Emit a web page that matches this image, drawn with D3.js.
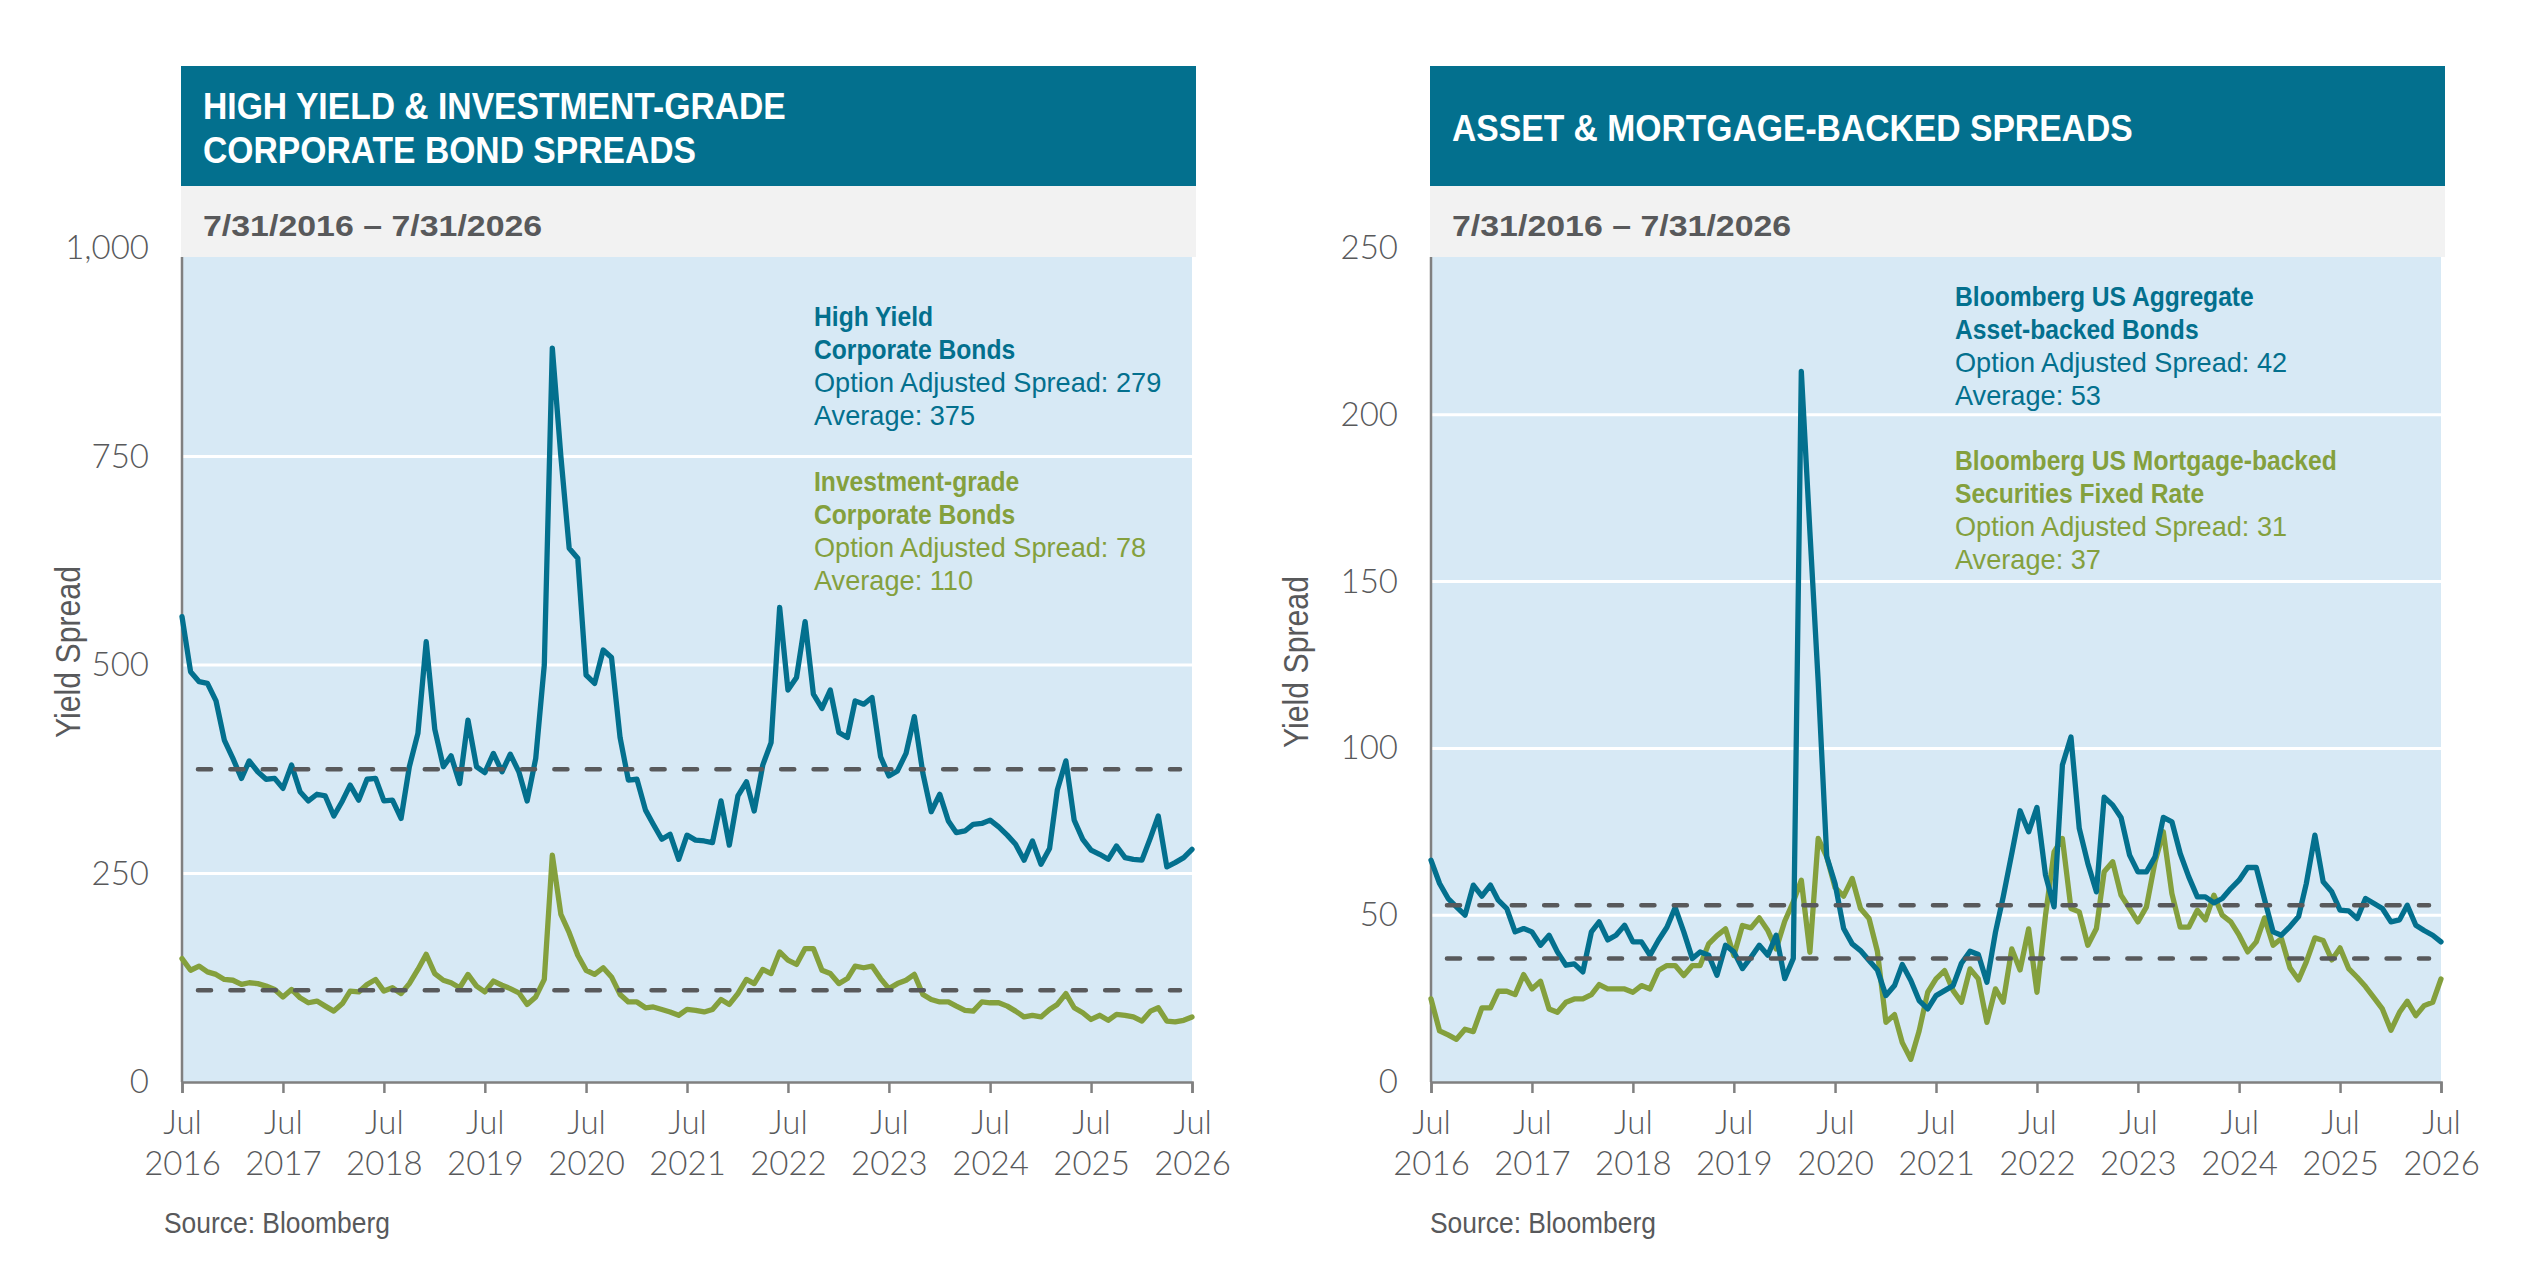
<!DOCTYPE html>
<html>
<head>
<meta charset="utf-8">
<script src="https://cdn.jsdelivr.net/npm/d3@7"></script>
<style>
  body { margin: 0; background: #fff; }
  svg text { font-family: "Liberation Sans", Arial, sans-serif; }
  svg .tick text { font-family: Lato, "Noto Sans", sans-serif; font-weight: 300; }
</style>
</head>
<body>
<div id="chart"></div>
<script>
// monthly spreads, Jul 2016 .. Jul 2026 (121 points)
const highYield = [558,492,480,478,457,410,388,364,385,372,363,364,352,380,348,337,345,343,319,337,
  356,338,363,364,337,338,316,378,418,528,423,378,391,358,434,378,371,394,372,393,
  372,337,388,500,880,750,640,628,488,478,518,509,413,362,363,326,309,291,297,267,
  296,290,289,287,337,284,343,360,325,380,407,569,470,485,552,465,448,470,419,413,
  457,453,461,390,367,373,394,438,370,324,345,313,299,301,309,310,314,306,296,285,
  266,289,261,280,350,385,314,291,278,273,267,283,269,267,266,293,319,258,263,269,279];
const investGrade = [148,134,139,132,129,123,122,117,119,118,115,111,102,111,101,95,97,91,85,94,
  109,108,117,123,109,113,106,118,135,153,130,122,119,113,129,115,108,121,116,112,
  107,93,102,123,272,201,179,152,134,129,137,126,105,96,96,89,90,87,84,80,
  87,86,84,87,99,93,106,123,118,135,130,156,146,141,160,160,134,130,118,124,
  139,137,139,124,112,118,122,129,105,99,96,96,91,86,85,96,95,95,91,85,
  78,80,78,87,93,106,89,83,75,80,74,81,80,78,73,85,89,73,72,74,78];
const assetBacked = [66.5,59.5,55,52.5,50,59,55.7,59,54.5,52,45,46,45,41,44,39,35,35.4,33,45,
  48,42.6,44,47,42,42,38,42.4,46.4,52.3,45,37,39,38,32,41,39,34,37.4,41,
  38,44,31,37,213,165,120,67.5,59.5,46,41.4,39.4,36.4,33.6,25.9,28.9,35.2,30.4,24.4,21.9,
  25.9,27.4,28.9,35.6,39.2,38.2,29.9,44.9,55.5,68.5,81.3,75,82.3,62,52.5,95,103.4,76,65.5,57,
  85.4,83,79.3,68,63,63,67.5,79.3,78,68.5,61.5,55.5,55.5,53.7,55,58,60.5,64.3,64.3,54.7,
  45,44,46.6,49.6,59.5,74,60,57,51.5,51.3,49,55,53.5,52,48,48.6,53,47,45.4,44,42];
const mortgageBacked = [24.9,15.3,14.1,12.8,15.8,15.1,22.2,22.2,27.2,27.2,26.2,32.2,27.9,30.2,21.9,20.9,23.9,24.9,24.9,26.2,
  29.2,27.9,27.9,27.9,26.9,28.9,27.9,33.4,34.9,34.9,31.9,34.9,34.9,41.4,43.9,45.9,37.9,46.9,46.2,49.2,
  45.4,39.9,48.2,54,60.5,38.9,73,67.5,58.3,55.7,61,52,49,39.2,17.9,20.2,11.8,6.8,15.3,26.9,
  30.9,33.4,27.4,23.9,33.9,30.9,17.9,27.9,23.9,39.9,33.6,45.9,26.9,50,69,73,52,51,41,46,
  63,66,56,52,48,52.5,66,75,56.5,46.4,46.4,51.5,48.6,56,50,48,44,39,42,49.2,
  41,43,34.2,30.6,36,43.2,42.4,36.6,40.2,34,31.4,28.6,25.2,21.9,15.5,20.9,24.2,19.9,22.9,23.9,30.9];

const months = d3.timeMonth.range(new Date(2016, 6, 1), new Date(2026, 7, 1));
const julyTicks = months.filter(d => d.getMonth() === 6);

const leftTitle = ["HIGH YIELD & INVESTMENT-GRADE", "CORPORATE BOND SPREADS"];
const rightTitle = ["ASSET & MORTGAGE-BACKED SPREADS"];
const dateRange = "7/31/2016 \u2013 7/31/2026";
const leftYTicks = [0, 250, 500, 750, 1000];
const rightYTicks = [0, 50, 100, 150, 200, 250];
const hyNote = ["High Yield", "Corporate Bonds", "Option Adjusted Spread: 279", "Average: 375"];
const igNote = ["Investment-grade", "Corporate Bonds", "Option Adjusted Spread: 78", "Average: 110"];
const abNote = ["Bloomberg US Aggregate", "Asset-backed Bonds", "Option Adjusted Spread: 42", "Average: 53"];
const mbNote = ["Bloomberg US Mortgage-backed", "Securities Fixed Rate", "Option Adjusted Spread: 31", "Average: 37"];

const TEAL = "#03708e", GREEN = "#84a03d", GREY = "#58595b";

const svg = d3.select("#chart").append("svg")
  .attr("width", 2531).attr("height", 1277);

// text squeezed horizontally (the original face is a condensed one)
function label(g, x, y, str, size, k, opts = {}) {
  return g.append("text")
    .attr("transform", `translate(${x},${y}) scale(${k},1)`)
    .attr("font-size", size)
    .attr("font-weight", opts.bold ? "bold" : "normal")
    .attr("fill", opts.fill || GREY)
    .text(str);
}

function panel(o) {
  const g = svg.append("g");
  const x = d3.scaleTime().domain([months[0], months[months.length - 1]]).range([o.x0, o.x0 + 1010]);
  const y = d3.scaleLinear().domain([0, o.yMax]).range([1082, 248]);
  const [xl, xr] = x.range();

  // plot background
  g.append("rect").attr("x", xl).attr("y", y(o.yMax)).attr("width", xr - xl)
    .attr("height", y(0) - y(o.yMax)).attr("fill", "#d7e9f5");

  // header
  g.append("rect").attr("x", xl - 1).attr("y", 66).attr("width", xr - xl + 5)
    .attr("height", 120).attr("fill", TEAL);
  g.append("rect").attr("x", xl - 1).attr("y", 186).attr("width", xr - xl + 5)
    .attr("height", 71).attr("fill", "#f2f2f2");
  o.title.forEach((t, i) => label(g, xl + 21, o.titleY + i * 44, t, 37, 0.91, { bold: true, fill: "#fff" }));
  label(g, xl + 21, 236, dateRange, 30, 1.13, { bold: true });

  // gridlines
  g.selectAll(".grid").data(o.yTicks.filter(d => d > 0 && d < o.yMax)).enter().append("line")
    .attr("x1", xl).attr("x2", xr).attr("y1", d => y(d)).attr("y2", d => y(d))
    .attr("stroke", "#fff").attr("stroke-width", 3);

  // y axis
  const yAxis = g.append("g").attr("transform", `translate(${xl},0)`)
    .call(d3.axisLeft(y).tickValues(o.yTicks).tickSize(0).tickPadding(33).tickFormat(d3.format(",")));
  yAxis.select(".domain").remove();
  yAxis.selectAll("text").attr("font-size", 33).attr("fill", GREY).attr("font-family", null);
  g.append("line").attr("x1", xl).attr("x2", xl).attr("y1", 257).attr("y2", y(0))
    .attr("stroke", "#808080").attr("stroke-width", 2.5);

  // x axis
  const xAxis = g.append("g").attr("transform", `translate(0,${y(0)})`)
    .call(d3.axisBottom(x).tickValues(julyTicks).tickSize(11).tickFormat(""));
  xAxis.select(".domain").attr("stroke", "#808080").attr("stroke-width", 2.5);
  xAxis.selectAll(".tick line").attr("stroke", "#808080").attr("stroke-width", 2.5);
  const lab = xAxis.selectAll(".tick").append("text").attr("fill", GREY)
    .attr("font-size", 33).attr("text-anchor", "middle");
  lab.append("tspan").attr("x", 0).attr("y", 52).text("Jul");
  lab.append("tspan").attr("x", 0).attr("y", 93).text(d => d.getFullYear());

  // series
  const line = d3.line().x((d, i) => x(months[i])).y(d => y(d));
  o.series.forEach(s => {
    g.append("path").datum(s.values).attr("d", line).attr("fill", "none")
      .attr("stroke", s.color).attr("stroke-width", 5.3).attr("stroke-linejoin", "round")
      .attr("stroke-linecap", "round");
  });

  // averages
  o.averages.forEach(a => {
    g.append("line").attr("x1", xl + 16).attr("x2", xr - 12).attr("y1", y(a)).attr("y2", y(a))
      .attr("stroke", GREY).attr("stroke-width", 4.6).attr("stroke-linecap", "round")
      .attr("stroke-dasharray", "13 19.4");
  });

  // notes
  o.notes.forEach(n => {
    n.lines.forEach((t, i) => {
      const bold = i < 2;
      label(g, o.noteX, n.y + i * 33, t, 28, bold ? 0.88 : 0.97, { bold, fill: n.color });
    });
  });

  // axis title and source
  g.append("text").attr("transform", `translate(${o.ylabX},${o.ylabY}) rotate(-90) scale(0.84,1)`)
    .attr("text-anchor", "middle").attr("fill", GREY).attr("font-size", 36).text("Yield Spread");
  label(g, o.srcX, 1233, "Source: Bloomberg", 30, 0.88);
}

panel({
  x0: 182, yMax: 1000, yTicks: leftYTicks, title: leftTitle, titleY: 119,
  series: [{ values: investGrade, color: GREEN }, { values: highYield, color: TEAL }],
  averages: [375, 110],
  noteX: 814,
  notes: [{ lines: hyNote, color: TEAL, y: 326 }, { lines: igNote, color: GREEN, y: 491 }],
  ylabX: 80, ylabY: 652, srcX: 164
});

panel({
  x0: 1431, yMax: 250, yTicks: rightYTicks, title: rightTitle, titleY: 141,
  series: [{ values: mortgageBacked, color: GREEN }, { values: assetBacked, color: TEAL }],
  averages: [53, 37],
  noteX: 1955,
  notes: [{ lines: abNote, color: TEAL, y: 306 }, { lines: mbNote, color: GREEN, y: 470 }],
  ylabX: 1308, ylabY: 662, srcX: 1430
});
</script>
</body>
</html>
